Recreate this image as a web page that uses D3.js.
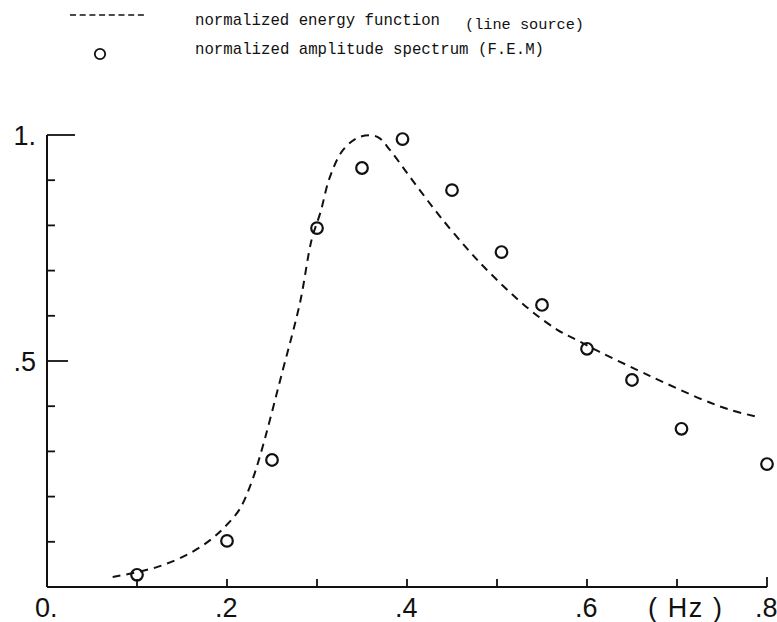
<!DOCTYPE html>
<html><head><meta charset="utf-8">
<script src="https://cdn.jsdelivr.net/npm/d3@7"></script>
<style>body{margin:0;background:#fff}svg{display:block}</style>
</head><body>
<svg id="c" width="777" height="622"></svg>
<script>
// Normalized amplitude spectrum (F.E.M) - circles
const femFreq = [0.1, 0.2, 0.25, 0.3, 0.35, 0.395, 0.45, 0.505, 0.55, 0.6, 0.65, 0.705, 0.8];
const femAmp  = [0.027, 0.102, 0.281, 0.794, 0.927, 0.991, 0.878, 0.741, 0.624, 0.527, 0.458, 0.350, 0.272];
// Normalized energy function (line source) - dashed curve
const energyFreq = [0.073, 0.122, 0.159, 0.184, 0.200, 0.214, 0.226, 0.237, 0.262, 0.281, 0.294, 0.304, 0.314, 0.329, 0.348, 0.367, 0.381, 0.400, 0.418, 0.437, 0.467, 0.492, 0.533, 0.567, 0.589, 0.614, 0.656, 0.684, 0.729, 0.759, 0.790];
const energyVal  = [0.022, 0.044, 0.075, 0.108, 0.138, 0.172, 0.225, 0.292, 0.480, 0.628, 0.768, 0.830, 0.905, 0.967, 0.996, 0.996, 0.967, 0.916, 0.868, 0.819, 0.748, 0.695, 0.619, 0.569, 0.546, 0.520, 0.480, 0.454, 0.414, 0.392, 0.376];
const xTicks = [0.1, 0.2, 0.3, 0.4, 0.5, 0.6, 0.7, 0.8];
const xTickLabels = [{v:0, t:"0."}, {v:0.2, t:".2"}, {v:0.4, t:".4"}, {v:0.6, t:".6"}, {v:0.8, t:".8"}];
const yTicks = [0.1, 0.2, 0.3, 0.4, 0.5, 0.6, 0.7, 0.8, 0.9, 1.0];
const yTickLabels = [{v:1, t:"1."}, {v:0.5, t:".5"}];
const legendItems = ["normalized energy function", "normalized amplitude spectrum (F.E.M)"];

const svg = d3.select("#c");
const x = d3.scaleLinear().domain([0, 0.8]).range([47, 767]);
const y = d3.scaleLinear().domain([0, 1]).range([587, 135]);
const ink = "#111";

// axes lines
svg.append("line").attr("x1", x(0)).attr("x2", x(0.8)).attr("y1", y(0)).attr("y2", y(0))
  .attr("stroke", ink).attr("stroke-width", 2);
svg.append("line").attr("x1", x(0)).attr("x2", x(0)).attr("y1", y(0)).attr("y2", y(1))
  .attr("stroke", ink).attr("stroke-width", 2);

// x ticks (upward)
svg.append("g").selectAll("line").data(xTicks).join("line")
  .attr("x1", d => x(d)).attr("x2", d => x(d))
  .attr("y1", y(0)).attr("y2", d => y(0) - (d === 0.8 ? 10 : 8))
  .attr("stroke", ink).attr("stroke-width", 1.8);
// y ticks (rightward)
svg.append("g").selectAll("line").data(yTicks).join("line")
  .attr("x1", x(0)).attr("x2", d => x(0) + (d === 1 ? 28 : d === 0.5 ? 21 : 8))
  .attr("y1", d => y(d)).attr("y2", d => y(d))
  .attr("stroke", ink).attr("stroke-width", 1.8);

const numFont = "'Liberation Sans', Arial, sans-serif";
svg.append("g").selectAll("text").data(xTickLabels).join("text")
  .attr("x", d => x(d.v) - 12).attr("y", 617)
  .attr("font-family", numFont).attr("font-size", 27).attr("fill", ink)
  .text(d => d.t);
svg.append("text").attr("x", 648).attr("y", 617)
  .attr("font-family", numFont).attr("font-size", 27).attr("fill", ink)
  .attr("textLength", 74)
  .attr("xml:space", "preserve").style("white-space", "pre")
  .text("( Hz )");
svg.append("g").selectAll("text").data(yTickLabels).join("text")
  .attr("x", 36).attr("y", d => y(d.v) + 10).attr("text-anchor", "end")
  .attr("font-family", numFont).attr("font-size", 27).attr("fill", ink)
  .text(d => d.t);

// energy curve
const line = d3.line().x(d => x(d[0])).y(d => y(d[1])).curve(d3.curveCatmullRom);
svg.append("path").datum(energyFreq.map((f, i) => [f, energyVal[i]]))
  .attr("d", line).attr("fill", "none").attr("stroke", ink)
  .attr("stroke-width", 2).attr("stroke-dasharray", "8,6");

// FEM circles
svg.append("g").selectAll("circle").data(femFreq.map((f, i) => [f, femAmp[i]])).join("circle")
  .attr("cx", d => x(d[0])).attr("cy", d => y(d[1])).attr("r", 5.8)
  .attr("fill", "none").attr("stroke", ink).attr("stroke-width", 2.2);

// legend
const monoFont = "'Liberation Mono', 'DejaVu Sans Mono', monospace";
svg.append("line").attr("x1", 70).attr("x2", 146).attr("y1", 15).attr("y2", 15)
  .attr("stroke", ink).attr("stroke-width", 1.5).attr("stroke-dasharray", "6,3.7");
svg.append("circle").attr("cx", 100).attr("cy", 54).attr("r", 5.2)
  .attr("fill", "none").attr("stroke", ink).attr("stroke-width", 1.8);
svg.append("g").selectAll("text").data(legendItems).join("text")
  .attr("x", 195).attr("y", (d, i) => i === 0 ? 25 : 54)
  .attr("font-family", monoFont).attr("font-size", 17).attr("fill", ink)
  .attr("textLength", (d, i) => i === 0 ? 245 : 349).attr("lengthAdjust", "spacingAndGlyphs")
  .text(d => d);
svg.append("text").attr("x", 465).attr("y", 29)
  .attr("font-family", monoFont).attr("font-size", 14).attr("fill", ink)
  .attr("textLength", 119).attr("lengthAdjust", "spacingAndGlyphs")
  .text("(line source)");
</script>
</body></html>
